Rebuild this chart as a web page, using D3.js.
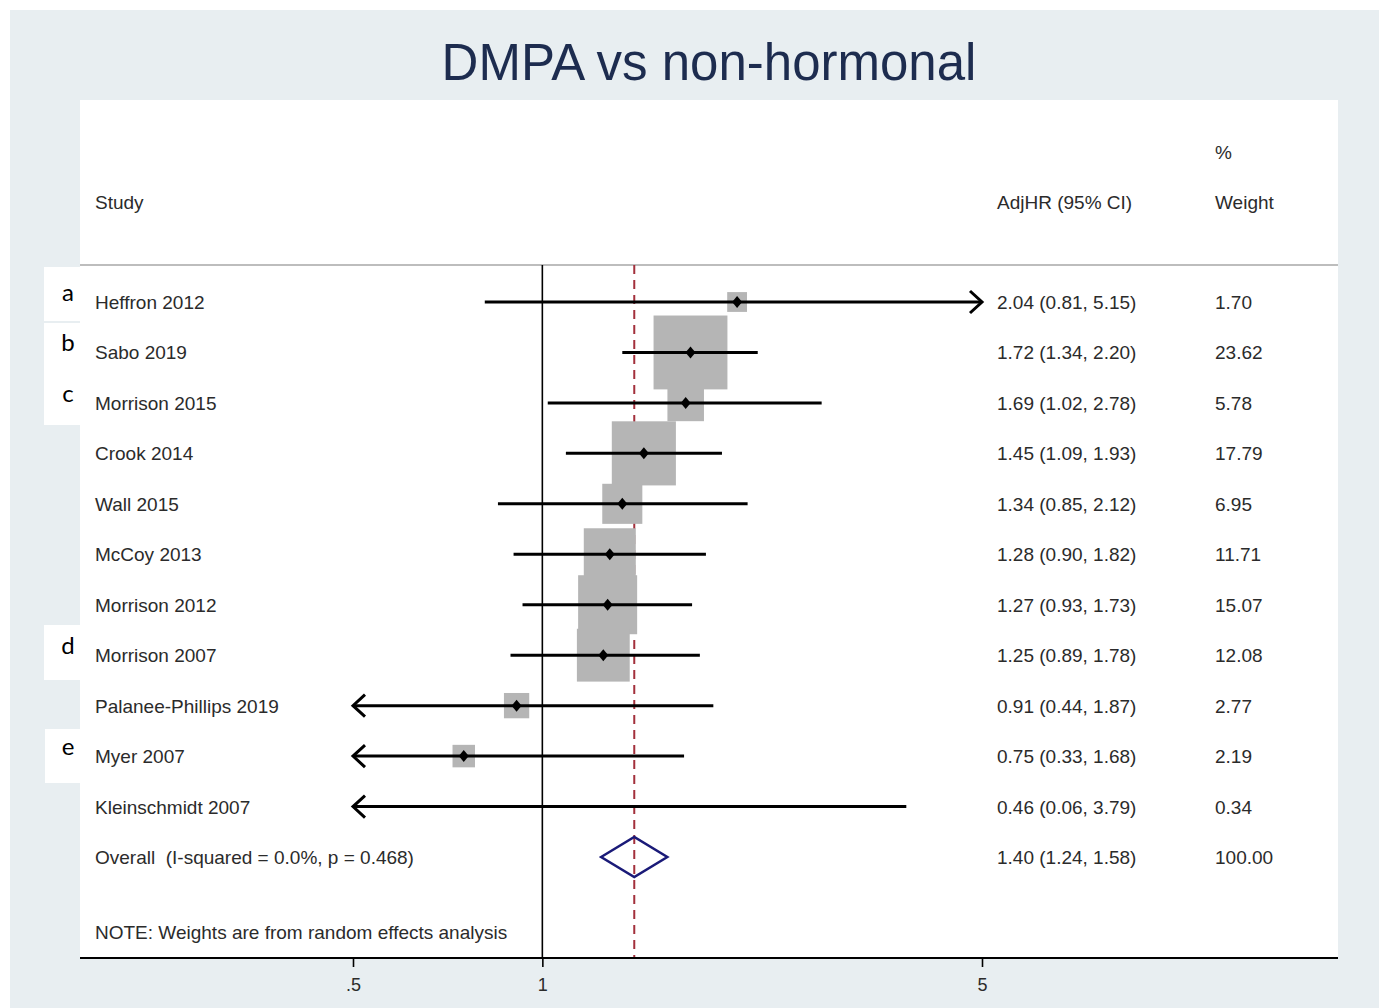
<!DOCTYPE html>
<html>
<head>
<meta charset="utf-8">
<script src="https://cdn.jsdelivr.net/npm/d3@7"></script>
<style>
  body { margin: 0; background: #fff; }
  text { font-family: "Liberation Sans", Arial, sans-serif; }
</style>
</head>
<body>
<div id="forest"></div>
<script>
// Study rows
var studies = ["Heffron 2012", "Sabo 2019", "Morrison 2015", "Crook 2014", "Wall 2015",
  "McCoy 2013", "Morrison 2012", "Morrison 2007", "Palanee-Phillips 2019", "Myer 2007",
  "Kleinschmidt 2007"];
var hr = [2.04, 1.72, 1.69, 1.45, 1.34, 1.28, 1.27, 1.25, 0.91, 0.75, 0.46];
var lower = [0.81, 1.34, 1.02, 1.09, 0.85, 0.90, 0.93, 0.89, 0.44, 0.33, 0.06];
var upper = [5.15, 2.20, 2.78, 1.93, 2.12, 1.82, 1.73, 1.78, 1.87, 1.68, 3.79];
var weights = [1.70, 23.62, 5.78, 17.79, 6.95, 11.71, 15.07, 12.08, 2.77, 2.19, 0.34];

var overallLabel = "Overall  (I-squared = 0.0%, p = 0.468)";
var overall = [1.40, 1.24, 1.58]; // estimate, lower, upper

var tickValues = [0.5, 1, 5];
var tickLabels = [".5", "1", "5"];

// side letters shown next to some rows
var letters = ["a", "b", "c", "d", "e"];
var letterRows = [0, 1, 2, 7, 9];

var W = 1379, H = 1008;

var svg = d3.select("#forest").append("svg")
    .attr("width", W)
    .attr("height", H);

// Page background and plot area
svg.append("rect").attr("x", 10).attr("y", 10).attr("width", W - 10).attr("height", H - 10)
    .attr("fill", "#e8eef1");
svg.append("rect").attr("x", 80).attr("y", 100).attr("width", 1258).attr("height", 858)
    .attr("fill", "#fff");

// white boxes behind letters
svg.append("rect").attr("x", 44).attr("y", 267).attr("width", 36).attr("height", 54).attr("fill", "#fff");
svg.append("rect").attr("x", 44).attr("y", 323).attr("width", 36).attr("height", 102).attr("fill", "#fff");
svg.append("rect").attr("x", 44).attr("y", 625).attr("width", 36).attr("height", 55).attr("fill", "#fff");
svg.append("rect").attr("x", 45).attr("y", 729).attr("width", 35).attr("height", 54).attr("fill", "#fff");

// Scales
var x = d3.scaleLog().domain([0.5, 5]).range([353, 982]);
var y = d3.scaleLinear().domain([0, 11]).range([302, 857]);
var side = function(w) { return 15.2 * Math.sqrt(w); };

// Title
svg.append("text")
    .attr("x", 709).attr("y", 80)
    .attr("text-anchor", "middle")
    .style("font-size", "51px")
    .style("fill", "#1d2c4f")
    .text("DMPA vs non-hormonal");

// Column headers
var textColor = "#2b2b2b";
var fs = "19px";
svg.append("text").attr("x", 95).attr("y", 209).style("font-size", fs).style("fill", textColor).text("Study");
svg.append("text").attr("x", 997).attr("y", 209).style("font-size", fs).style("fill", textColor).text("AdjHR (95% CI)");
svg.append("text").attr("x", 1215).attr("y", 159).style("font-size", fs).style("fill", textColor).text("%");
svg.append("text").attr("x", 1215).attr("y", 209).style("font-size", fs).style("fill", textColor).text("Weight");

// header rule
svg.append("line").attr("x1", 80).attr("x2", 1338).attr("y1", 265).attr("y2", 265)
    .attr("stroke", "#bdbdbd").attr("stroke-width", 2);

// null line at 1
svg.append("line").attr("x1", x(1)).attr("x2", x(1)).attr("y1", 265).attr("y2", 958)
    .attr("stroke", "#000").attr("stroke-width", 1.6);

// overall dashed line
svg.append("line").attr("x1", x(overall[0])).attr("x2", x(overall[0])).attr("y1", 265).attr("y2", 958)
    .attr("stroke", "#a3303c").attr("stroke-width", 2).attr("stroke-dasharray", "9,6");

var rows = studies.map(function(s, i) {
  return { name: s, hr: hr[i], lo: lower[i], hi: upper[i], w: weights[i], i: i };
});
var d0 = x.domain()[0], d1 = x.domain()[1];

// weight squares
svg.selectAll(".box")
    .data(rows.filter(function(d) { return d.hr >= d0 && d.hr <= d1; }))
    .enter().append("rect")
    .attr("class", "box")
    .attr("x", function(d) { return x(d.hr) - side(d.w) / 2; })
    .attr("y", function(d) { return y(d.i) - side(d.w) / 2; })
    .attr("width", function(d) { return side(d.w); })
    .attr("height", function(d) { return side(d.w); })
    .attr("fill", "#b5b5b5");

// confidence intervals, clipped with arrows
svg.selectAll(".ci")
    .data(rows)
    .enter().append("line")
    .attr("class", "ci")
    .attr("x1", function(d) { return x(Math.max(d.lo, d0)); })
    .attr("x2", function(d) { return x(Math.min(d.hi, d1)); })
    .attr("y1", function(d) { return y(d.i); })
    .attr("y2", function(d) { return y(d.i); })
    .attr("stroke", "#000").attr("stroke-width", 3);

rows.forEach(function(d) {
  var yy = y(d.i);
  if (d.lo < d0) {
    var xl = x(d0);
    svg.append("path")
        .attr("d", "M" + (xl + 12) + "," + (yy - 11) + "L" + xl + "," + yy + "L" + (xl + 12) + "," + (yy + 11))
        .attr("fill", "none").attr("stroke", "#000").attr("stroke-width", 3);
  }
  if (d.hi > d1) {
    var xr = x(d1);
    svg.append("path")
        .attr("d", "M" + (xr - 12) + "," + (yy - 11) + "L" + xr + "," + yy + "L" + (xr - 12) + "," + (yy + 11))
        .attr("fill", "none").attr("stroke", "#000").attr("stroke-width", 3);
  }
});

// point estimates
svg.selectAll(".pt")
    .data(rows.filter(function(d) { return d.hr >= d0 && d.hr <= d1; }))
    .enter().append("path")
    .attr("class", "pt")
    .attr("d", function(d) {
      var cx = x(d.hr), cy = y(d.i);
      return "M" + (cx - 5) + "," + cy + "L" + cx + "," + (cy - 6) + "L" + (cx + 5) + "," + cy + "L" + cx + "," + (cy + 6) + "Z";
    })
    .attr("fill", "#000");

// overall diamond
var oy = y(11);
svg.append("path")
    .attr("d", "M" + x(overall[1]) + "," + oy + "L" + x(overall[0]) + "," + (oy - 20) +
      "L" + x(overall[2]) + "," + oy + "L" + x(overall[0]) + "," + (oy + 20) + "Z")
    .attr("fill", "none").attr("stroke", "#1a1a78").attr("stroke-width", 2.5);

// row texts
var fmt = d3.format(".2f");
rows.forEach(function(d) {
  var yy = y(d.i) + 7;
  svg.append("text").attr("x", 95).attr("y", yy).style("font-size", fs).style("fill", textColor).text(d.name);
  svg.append("text").attr("x", 997).attr("y", yy).style("font-size", fs).style("fill", textColor)
      .text(fmt(d.hr) + " (" + fmt(d.lo) + ", " + fmt(d.hi) + ")");
  svg.append("text").attr("x", 1215).attr("y", yy).style("font-size", fs).style("fill", textColor).text(fmt(d.w));
});
svg.append("text").attr("x", 95).attr("y", oy + 7).style("font-size", fs).style("fill", textColor)
    .attr("xml:space", "preserve").style("white-space", "pre").text(overallLabel);
svg.append("text").attr("x", 997).attr("y", oy + 7).style("font-size", fs).style("fill", textColor)
    .text(fmt(overall[0]) + " (" + fmt(overall[1]) + ", " + fmt(overall[2]) + ")");
svg.append("text").attr("x", 1215).attr("y", oy + 7).style("font-size", fs).style("fill", textColor)
    .text(fmt(d3.sum(weights)));

svg.append("text").attr("x", 95).attr("y", 939).style("font-size", fs).style("fill", textColor)
    .text("NOTE: Weights are from random effects analysis");

// letters
letters.forEach(function(l, k) {
  svg.append("text").attr("x", 68).attr("y", y(letterRows[k]) - 1)
      .attr("text-anchor", "middle")
      .style("font-family", "Lato, 'Open Sans', sans-serif")
      .style("font-size", "24px").style("fill", "#000").text(l);
});

// x axis
svg.append("line").attr("x1", 80).attr("x2", 1338).attr("y1", 958).attr("y2", 958)
    .attr("stroke", "#000").attr("stroke-width", 2);
var axis = d3.axisBottom(x)
    .tickValues(tickValues)
    .tickFormat(function(v, i) { return tickLabels[i]; })
    .tickSize(9)
    .tickSizeOuter(0);
var ax = svg.append("g").attr("transform", "translate(0,958)").call(axis);
ax.select(".domain").remove();
ax.selectAll("line").attr("stroke", "#000").attr("stroke-width", 1.6);
ax.selectAll("text").style("font-size", "18px").style("fill", textColor)
    .style("font-family", "'Liberation Sans', Arial, sans-serif").attr("y", 20);
</script>
</body>
</html>
